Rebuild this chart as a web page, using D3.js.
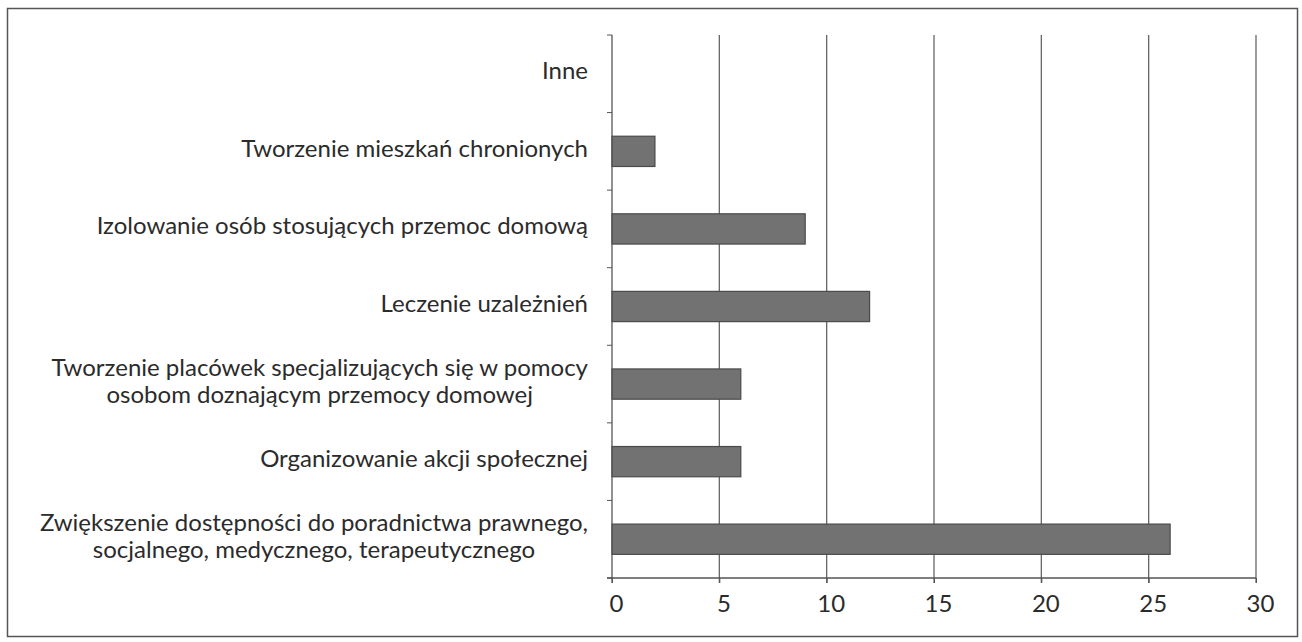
<!DOCTYPE html>
<html>
<head>
<meta charset="utf-8">
<script src="https://cdn.jsdelivr.net/npm/d3@7"></script>
<style>
  body { margin: 0; background: #fff; }
  text { font-family: Lato, "Open Sans", sans-serif; fill: #2b2b2b; }
</style>
</head>
<body>
<div id="chart"></div>
<script>
// data, top to bottom
var categories = [
  ["Inne"],
  ["Tworzenie mieszkań chronionych"],
  ["Izolowanie osób stosujących przemoc domową"],
  ["Leczenie uzależnień"],
  ["Tworzenie placówek specjalizujących się w pomocy", "osobom doznającym przemocy domowej"],
  ["Organizowanie akcji społecznej"],
  ["Zwiększenie dostępności do poradnictwa prawnego,", "socjalnego, medycznego, terapeutycznego"]
];
var values = [0, 2, 9, 12, 6, 6, 26];
var xTicks = [0, 5, 10, 15, 20, 25, 30];

var svgWidth = 1302;
var svgHeight = 642;
var fontSize = 24;

var margin = { top: 35, right: 44, bottom: 64, left: 612 };

var svg = d3.select("#chart")
  .append("svg")
  .attr("width", svgWidth)
  .attr("height", svgHeight);

// outer frame
svg.append("rect")
  .attr("x", 7.5).attr("y", 8.5)
  .attr("width", 1290).attr("height", 628)
  .attr("fill", "none")
  .attr("stroke", "#555")
  .attr("stroke-width", 1.5);

var x = d3.scaleLinear()
  .domain([0, 30])
  .range([margin.left, svgWidth - margin.right - 2]);

var keys = d3.range(categories.length);
var y = d3.scaleBand()
  .domain(keys)
  .range([margin.top, svgHeight - margin.bottom])
  .paddingInner(0.61)
  .paddingOuter(0.305);

var y0 = margin.top, y1 = svgHeight - margin.bottom;

// vertical gridlines with short ticks below axis
svg.append("g")
  .selectAll("line")
  .data(xTicks.slice(1))
  .join("line")
  .attr("x1", d => x(d)).attr("x2", d => x(d))
  .attr("y1", y0).attr("y2", y1 + 5)
  .attr("stroke", "#666")
  .attr("stroke-width", 1.3);

// bars
svg.append("g")
  .selectAll("rect")
  .data(values)
  .join("rect")
  .attr("x", x(0))
  .attr("y", (d, i) => y(i))
  .attr("width", d => x(d) - x(0))
  .attr("height", y.bandwidth())
  .attr("fill", "#727272")
  .attr("stroke", d => d > 0 ? "#4a4a4a" : "none")
  .attr("stroke-width", 1.2);

// x axis
var xAxis = svg.append("g")
  .attr("transform", `translate(0, ${y1})`)
  .call(d3.axisBottom(x).tickValues(xTicks).tickSize(5).tickPadding(12));
xAxis.select(".domain").attr("stroke", "#555").attr("stroke-width", 1.3)
  .attr("d", `M${x(0) - 5},0H${x(30)}`);
xAxis.selectAll(".tick line").attr("stroke", "#555");
xAxis.selectAll(".tick text")
  .attr("font-size", fontSize)
  .attr("dx", 4)
  .style("font-family", "Lato, sans-serif")
  .attr("fill", "#2b2b2b");

// y axis line and ticks at category boundaries
svg.append("line")
  .attr("x1", x(0)).attr("x2", x(0))
  .attr("y1", y0).attr("y2", y1 + 5)
  .attr("stroke", "#555").attr("stroke-width", 1.3);

svg.append("g")
  .selectAll("line")
  .data(d3.range(categories.length + 1))
  .join("line")
  .attr("x1", x(0) - 5).attr("x2", x(0))
  .attr("y1", i => y0 + i * (y1 - y0) / categories.length)
  .attr("y2", i => y0 + i * (y1 - y0) / categories.length)
  .attr("stroke", "#555");

// category labels: lines centered, block right-aligned at 588
var labelRight = 588;
var lineH = 27;
var labels = svg.append("g")
  .selectAll("g")
  .data(categories)
  .join("g");

labels.each(function(lines, i) {
  var g = d3.select(this);
  var cy = y(i) + y.bandwidth() / 2;
  var texts = g.selectAll("text")
    .data(lines)
    .join("text")
    .attr("font-size", fontSize)
    .attr("y", (d, j) => cy + (j - (lines.length - 1) / 2) * lineH - 3)
    .attr("dy", "0.35em")
    .text(d => d);
  var maxW = d3.max(texts.nodes(), n => n.getComputedTextLength());
  var cx = labelRight - maxW / 2;
  texts.attr("x", cx).attr("text-anchor", "middle");
});
</script>
</body>
</html>
